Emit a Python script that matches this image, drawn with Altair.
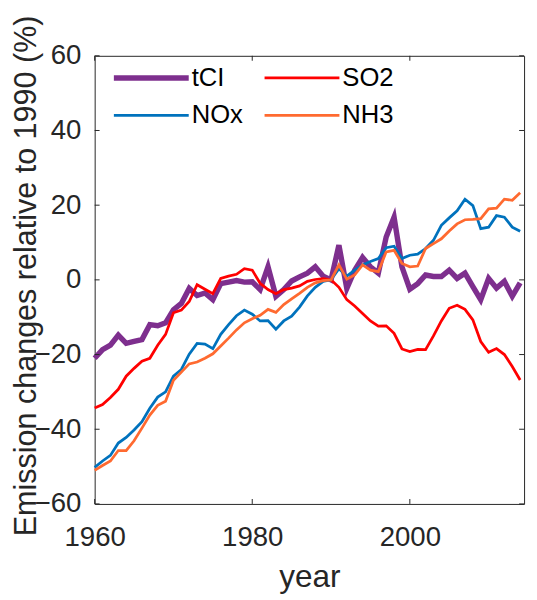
import altair as alt
import pandas as pd

years = list(range(1960, 2015))

tci = [-21.0, -18.7, -17.5, -14.8, -17.0, -16.5, -16.0, -12.0, -12.3, -11.5,
       -8.0, -6.3, -2.3, -4.2, -3.5, -5.3, -1.0, -0.6, -0.2, -0.6,
       -0.5, -2.6, 3.5, -4.4, -2.6, -0.3, 0.8, 1.8, 3.5, 1.0,
       0.0, 9.3, -2.3, 2.6, 6.0, 3.5, 1.8, 11.5, 16.8, 3.5,
       -2.5, -1.0, 1.3, 0.9, 0.9, 2.6, 0.4, 1.8, -1.8, -5.3,
       0.4, -2.2, -0.4, -4.4, -0.8]

so2 = [-34.3, -33.4, -31.5, -29.3, -25.8, -23.7, -21.8, -21.0, -17.5, -14.6,
       -8.8, -8.1, -5.8, -1.3, -2.5, -3.7, 0.4, 1.0, 1.5, 3.0,
       2.6, -0.9, -2.6, -3.7, -2.6, -2.2, -1.6, -0.4, 0.1, 0.3,
       0.0, -2.0, -5.3, -7.0, -9.0, -11.0, -12.4, -12.3, -14.3, -18.5,
       -19.2, -18.6, -18.7, -15.0, -11.0, -7.6, -6.8, -7.9, -10.7, -16.5,
       -19.4, -18.4, -20.0, -23.2, -26.8]

nox = [-50.2, -48.5, -47.0, -43.7, -42.2, -40.2, -38.0, -34.4, -31.4, -30.0,
       -25.8, -24.0, -19.9, -17.0, -17.2, -18.4, -14.6, -12.0, -9.6, -8.1,
       -9.2, -11.0, -10.9, -13.2, -11.0, -9.7, -7.3, -4.3, -2.0, -0.4,
       0.0, 3.0, 1.0, 2.6, 4.0, 4.9, 5.7, 8.6, 9.0, 5.7,
       6.6, 6.9, 8.4, 10.6, 14.6, 16.6, 18.5, 21.6, 19.9, 13.7,
       14.1, 17.2, 16.8, 14.1, 13.0]

nh3 = [-51.0, -49.7, -48.5, -45.7, -45.7, -43.1, -39.7, -36.2, -33.6, -32.5,
       -26.9, -24.7, -22.5, -22.0, -21.0, -19.8, -17.7, -15.6, -13.4, -11.5,
       -10.4, -9.5, -7.9, -8.7, -6.6, -5.1, -3.6, -2.0, -0.8, -0.2,
       0.0, 4.0, 0.2, 1.3, 4.0, 2.6, 2.2, 7.5, 7.9, 4.4,
       3.5, 3.7, 8.4, 9.7, 11.0, 13.1, 15.0, 16.1, 16.2, 16.4,
       19.0, 19.2, 21.6, 21.3, 23.3]

series_names = ["tCI", "SO2", "NOx", "NH3"]
series_values = [tci, so2, nox, nh3]
series_colors = ["#7E2F8E", "#FF0000", "#0072BD", "#FF6A30"]
series_widths = [5.5, 2.8, 2.8, 2.8]

x_ticks = [1960, 1980, 2000]
y_ticks = [-60, -40, -20, 0, 20, 40, 60]

rows = []
for name, vals in zip(series_names, series_values):
    for yr, v in zip(years, vals):
        rows.append({"year": yr, "value": v, "series": name})
df = pd.DataFrame(rows)

W, H = 436, 455
TXT = "#262626"
FONT = "Liberation Sans"

xscale = alt.Scale(domain=[1960, 2014.5], nice=False, zero=False)
yscale = alt.Scale(domain=[-60, 60], nice=False, zero=False)

xaxis = alt.Axis(values=x_ticks, format="d", tickSize=0, domain=False, grid=False,
                 labelFontSize=28, labelPadding=20, labelFont=FONT, labelColor=TXT,
                 labelFlush=False, title="year", titleFontSize=32, titleFont=FONT,
                 titleColor=TXT, titleFontWeight="normal",
                 titleBaseline="alphabetic", titleY=84)
yaxis = alt.Axis(values=y_ticks, format="d", tickSize=0, domain=False, grid=False,
                 labelFontSize=28, labelPadding=14, labelFont=FONT, labelColor=TXT,
                 labelFlush=False, title="Emission changes relative to 1990 (%)",
                 titleFontSize=31, titleFont=FONT, titleColor=TXT,
                 titleFontWeight="normal", titleBaseline="alphabetic",
                 titleX=-60, titleY=223, titleAngle=270)

legend = alt.Legend(orient="none", legendX=19, legendY=9.5, columns=2, title=None,
                    direction="horizontal",
                    symbolType="stroke", symbolSize=5776, labelFontSize=26,
                    labelFont=FONT, labelColor="#000000",
                    symbolOffset=25.5, labelOffset=28,
                    columnPadding=15, rowPadding=12, padding=0, labelLimit=0,
                    symbolStrokeWidth=alt.ExprRef("datum.value === 'tCI' ? 5.5 : 2.8"))

color = alt.Color("series:N", scale=alt.Scale(domain=series_names, range=series_colors),
                  legend=legend)

layers = []
for name, w in zip(series_names, series_widths):
    layers.append(
        alt.Chart(df).transform_filter(alt.datum.series == name)
        .mark_line(strokeWidth=w)
        .encode(x=alt.X("year:Q", scale=xscale, axis=xaxis),
                y=alt.Y("value:Q", scale=yscale, axis=yaxis),
                color=color)
    )

xt = pd.DataFrame({"year": x_ticks})
yt = pd.DataFrame({"value": y_ticks})

tick_b = alt.Chart(xt).mark_rule(color=TXT, strokeWidth=1).encode(
    x=alt.X("year:Q", scale=xscale, axis=xaxis), y=alt.value(H), y2=alt.value(H - 5))
tick_t = alt.Chart(xt).mark_rule(color=TXT, strokeWidth=1).encode(
    x=alt.X("year:Q", scale=xscale, axis=xaxis), y=alt.value(0), y2=alt.value(5))
tick_l = alt.Chart(yt).mark_rule(color=TXT, strokeWidth=1).encode(
    y=alt.Y("value:Q", scale=yscale, axis=yaxis), x=alt.value(0), x2=alt.value(5))
tick_r = alt.Chart(yt).mark_rule(color=TXT, strokeWidth=1).encode(
    y=alt.Y("value:Q", scale=yscale, axis=yaxis), x=alt.value(W), x2=alt.value(W - 5))

chart = alt.layer(*layers, tick_b, tick_t, tick_l, tick_r).properties(
    width=W, height=H,
    padding={"left": 88, "top": 44, "right": 5, "bottom": 93},
    autosize=alt.AutoSizeParams(type="none"),
).configure_view(stroke=TXT, strokeWidth=1)

chart.save("out.html", embed_options={"renderer": "svg", "actions": False})
